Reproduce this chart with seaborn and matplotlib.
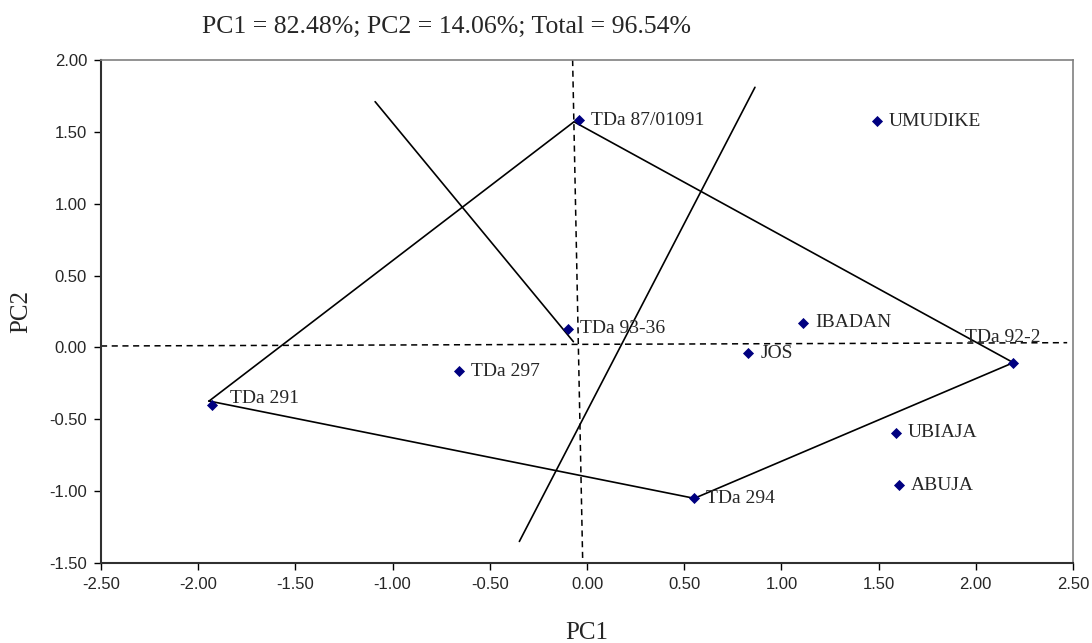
import pandas as pd
import seaborn as sns
import matplotlib
matplotlib.use("Agg")
from matplotlib import pyplot as plt
from matplotlib.ticker import FormatStrFormatter, MultipleLocator

# scores
labels = ["TDa 87/01091", "UMUDIKE", "TDa 93-36", "IBADAN", "JOS", "TDa 92-2",
          "TDa 297", "TDa 291", "UBIAJA", "ABUJA", "TDa 294"]
pc1 = [-0.04, 1.49, -0.10, 1.11, 0.83, 2.19, -0.66, -1.93, 1.59, 1.605, 0.55]
pc2 = [1.58, 1.575, 0.13, 0.17, -0.04, -0.105, -0.165, -0.40, -0.595, -0.96, -1.05]

# polygon joining the outer genotypes
hull_x = [-1.944, -0.067, 2.193, 0.552, -1.944]
hull_y = [-0.373, 1.57, -0.106, -1.05, -0.373]

# the two rays through the origin
ray1_x = [-1.09, -0.07]
ray1_y = [1.71, 0.04]
ray2_x = [0.864, -0.348]
ray2_y = [1.81, -1.35]

# dashed axes lines
vline_x = [-0.074, -0.022]
vline_y = [2.0, -1.5]
hline_x = [-2.5, 2.47]
hline_y = [0.01, 0.033]

title = "PC1 = 82.48%; PC2 = 14.06%; Total = 96.54%"

sns.set_style("white")
plt.rcParams["font.family"] = ["Liberation Sans", "DejaVu Sans"]
plt.rcParams["axes.unicode_minus"] = False

df = pd.DataFrame({"PC1": pc1, "PC2": pc2, "label": labels})

fig = plt.figure(figsize=(10.92, 6.43), dpi=100)
ax = fig.add_axes([0.0925, 0.1244, 0.8901, 0.7823])

ax.plot(vline_x, vline_y, color="black", lw=1.1, ls=(0, (4, 3)))
ax.plot(hline_x, hline_y, color="black", lw=1.1, ls=(0, (4, 3)))
ax.plot(hull_x, hull_y, color="black", lw=1.2)
ax.plot(ray1_x, ray1_y, color="black", lw=1.2)
ax.plot(ray2_x, ray2_y, color="black", lw=1.2)

sns.scatterplot(data=df, x="PC1", y="PC2", marker="D", s=32, color="#000080",
                edgecolor="#000080", linewidth=0, zorder=5, ax=ax)

# label offsets in pixels
offsets = {"TDa 92-2": (-48, 25), "TDa 291": (18, 6)}
for _, row in df.iterrows():
    dx, dy = offsets.get(row["label"], (12, 0))
    ax.annotate(row["label"], (row["PC1"], row["PC2"]), xytext=(dx, dy),
                textcoords="offset pixels", ha="left", va="center",
                fontsize=14, family="Liberation Serif")

ax.set_xlim(-2.5, 2.5)
ax.set_ylim(-1.5, 2.0)
ax.xaxis.set_major_locator(MultipleLocator(0.5))
ax.yaxis.set_major_locator(MultipleLocator(0.5))
ax.xaxis.set_major_formatter(FormatStrFormatter("%.2f"))
ax.yaxis.set_major_formatter(FormatStrFormatter("%.2f"))
ax.tick_params(axis="both", labelsize=12, direction="out", length=5,
               width=1, color="black", left=True, bottom=True, pad=5)

for side in ["left", "bottom"]:
    ax.spines[side].set_color("#303030")
    ax.spines[side].set_linewidth(1.5)
for side in ["top", "right"]:
    ax.spines[side].set_color("#808080")
    ax.spines[side].set_linewidth(1.2)

ax.set_xlabel("PC1", fontsize=18, family="Liberation Serif", labelpad=22)
ax.set_ylabel("PC2", fontsize=18, family="Liberation Serif", labelpad=12)

fig.text(0.409, 1 - 27 / 643, title, ha="center", va="center",
         fontsize=18.5, family="Liberation Serif")

fig.savefig("out.png", dpi=100)
